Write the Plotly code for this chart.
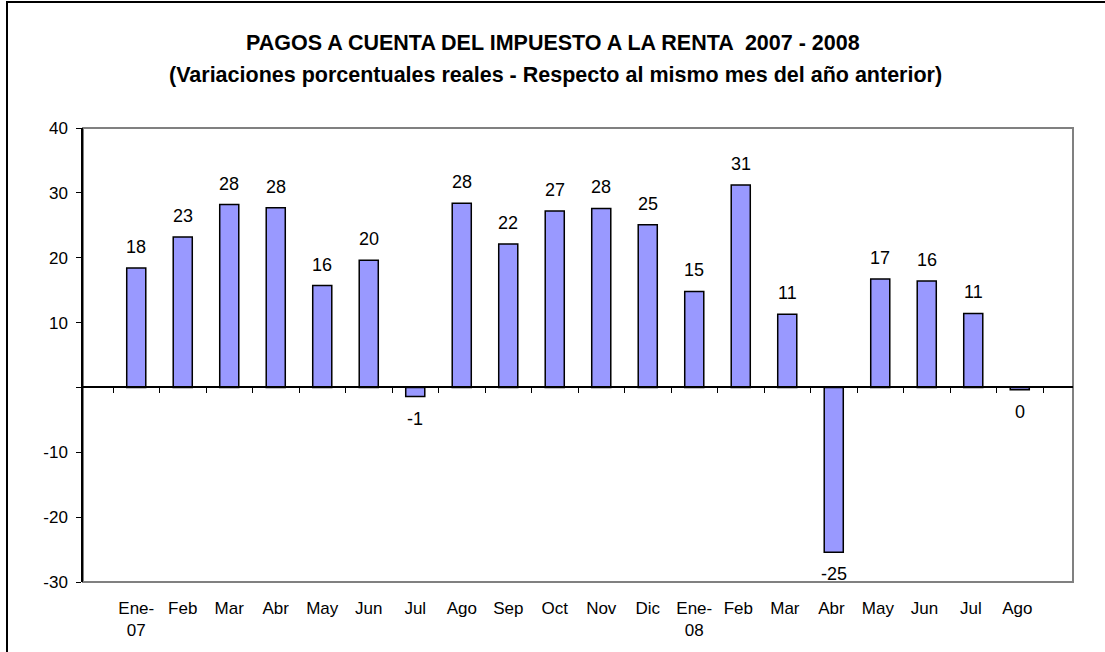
import plotly.graph_objects as go

categories = ["Ene-<br>07", "Feb", "Mar", "Abr", "May", "Jun", "Jul", "Ago", "Sep", "Oct",
              "Nov", "Dic", "Ene-<br>08", "Feb ", "Mar ", "Abr ", "May ", "Jun ", "Jul ", "Ago "]
values = [18.4, 23.2, 28.2, 27.7, 15.7, 19.6, -1.4, 28.4, 22.1, 27.2,
          27.6, 25.1, 14.8, 31.2, 11.3, -25.4, 16.7, 16.4, 11.4, -0.35]
labels = [str(int(round(v))) for v in values]
labels = ["0" if l in ("-0", "0") else l for l in labels]

ytickvals = [-30, -20, -10, 0, 10, 20, 30, 40]
yticktext = ["-30", "-20", "-10", "", "10", "20", "30", "40"]

title1 = "PAGOS A CUENTA DEL IMPUESTO A LA RENTA  2007 - 2008"
title2 = "(Variaciones porcentuales reales - Respecto al mismo mes del año anterior)"

W, H = 1105, 652
L, R, T, B = 83, 1073, 128, 582
FONT = "Liberation Sans, Arial, sans-serif"

def px_x(p):
    return (p - L) / (R - L)

def px_y(p):
    return (B - p) / (B - T)

fig = go.Figure()
fig.add_trace(go.Bar(
    x=categories, y=values,
    marker=dict(color="#9999FF", line=dict(color="black", width=1.5)),
    hoverinfo="x+y", showlegend=False,
))
# helper trace for the zero-line axis ticks
fig.add_trace(go.Scatter(x=categories, y=[None] * len(categories), xaxis="x2",
                         mode="markers", showlegend=False, hoverinfo="skip"))

for c, v, t in zip(categories, values, labels):
    fig.add_annotation(
        x=c, y=v, text=t, showarrow=False,
        yanchor="bottom" if v >= 0 else "top",
        yshift=9 if v >= 0 else -10,
        font=dict(family=FONT, size=18, color="black"),
    )

fig.add_annotation(xref="paper", yref="paper", x=px_x(553), y=px_y(43),
                   text="<b>" + title1 + "</b>", showarrow=False, xanchor="center", yanchor="middle",
                   font=dict(family=FONT, size=21.5, color="black"))
fig.add_annotation(xref="paper", yref="paper", x=px_x(555), y=px_y(75),
                   text="<b>" + title2 + "</b>", showarrow=False, xanchor="center", yanchor="middle",
                   font=dict(family=FONT, size=21.5, color="black"))

# plot-area border (gray) and outer frame
fig.add_shape(type="rect", xref="paper", yref="paper", x0=0, x1=1, y0=0, y1=1,
              line=dict(color="#808080", width=2), layer="below")
fig.add_shape(type="line", xref="paper", yref="paper",
              x0=px_x(7), x1=px_x(7), y0=px_y(1), y1=px_y(H + 5),
              line=dict(color="black", width=2))
fig.add_shape(type="line", xref="paper", yref="paper",
              x0=px_x(7), x1=px_x(W + 5), y0=px_y(2), y1=px_y(2),
              line=dict(color="black", width=2))

fig.update_layout(
    width=W, height=H, autosize=False,
    margin=dict(l=L, r=W - R, t=T, b=H - B, pad=0),
    paper_bgcolor="white", plot_bgcolor="white",
    font=dict(family=FONT, size=17, color="black"),
    bargap=0.59,
    xaxis=dict(type="category", showgrid=False, zeroline=False, showline=False,
               ticks="", tickfont=dict(size=17), ticklabelstandoff=14, fixedrange=True),
    xaxis2=dict(type="category", overlaying="x", matches="x", anchor="free",
                position=30 / 70, side="bottom", showgrid=False, zeroline=False,
                showline=True, linecolor="black", linewidth=1.5,
                ticks="outside", ticklen=5, tickwidth=1, tickcolor="black",
                tickson="boundaries", showticklabels=False),
    yaxis=dict(range=[-30, 40], tickvals=ytickvals, ticktext=yticktext,
               showgrid=False, zeroline=False, showline=True, linecolor="black",
               linewidth=1.5, ticks="outside", ticklen=5, tickwidth=1, tickcolor="black",
               tickfont=dict(size=17), ticklabelstandoff=5, fixedrange=True),
)

fig.write_html("out.html", config={"displayModeBar": False},
               post_script="document.body.style.margin='0';")
